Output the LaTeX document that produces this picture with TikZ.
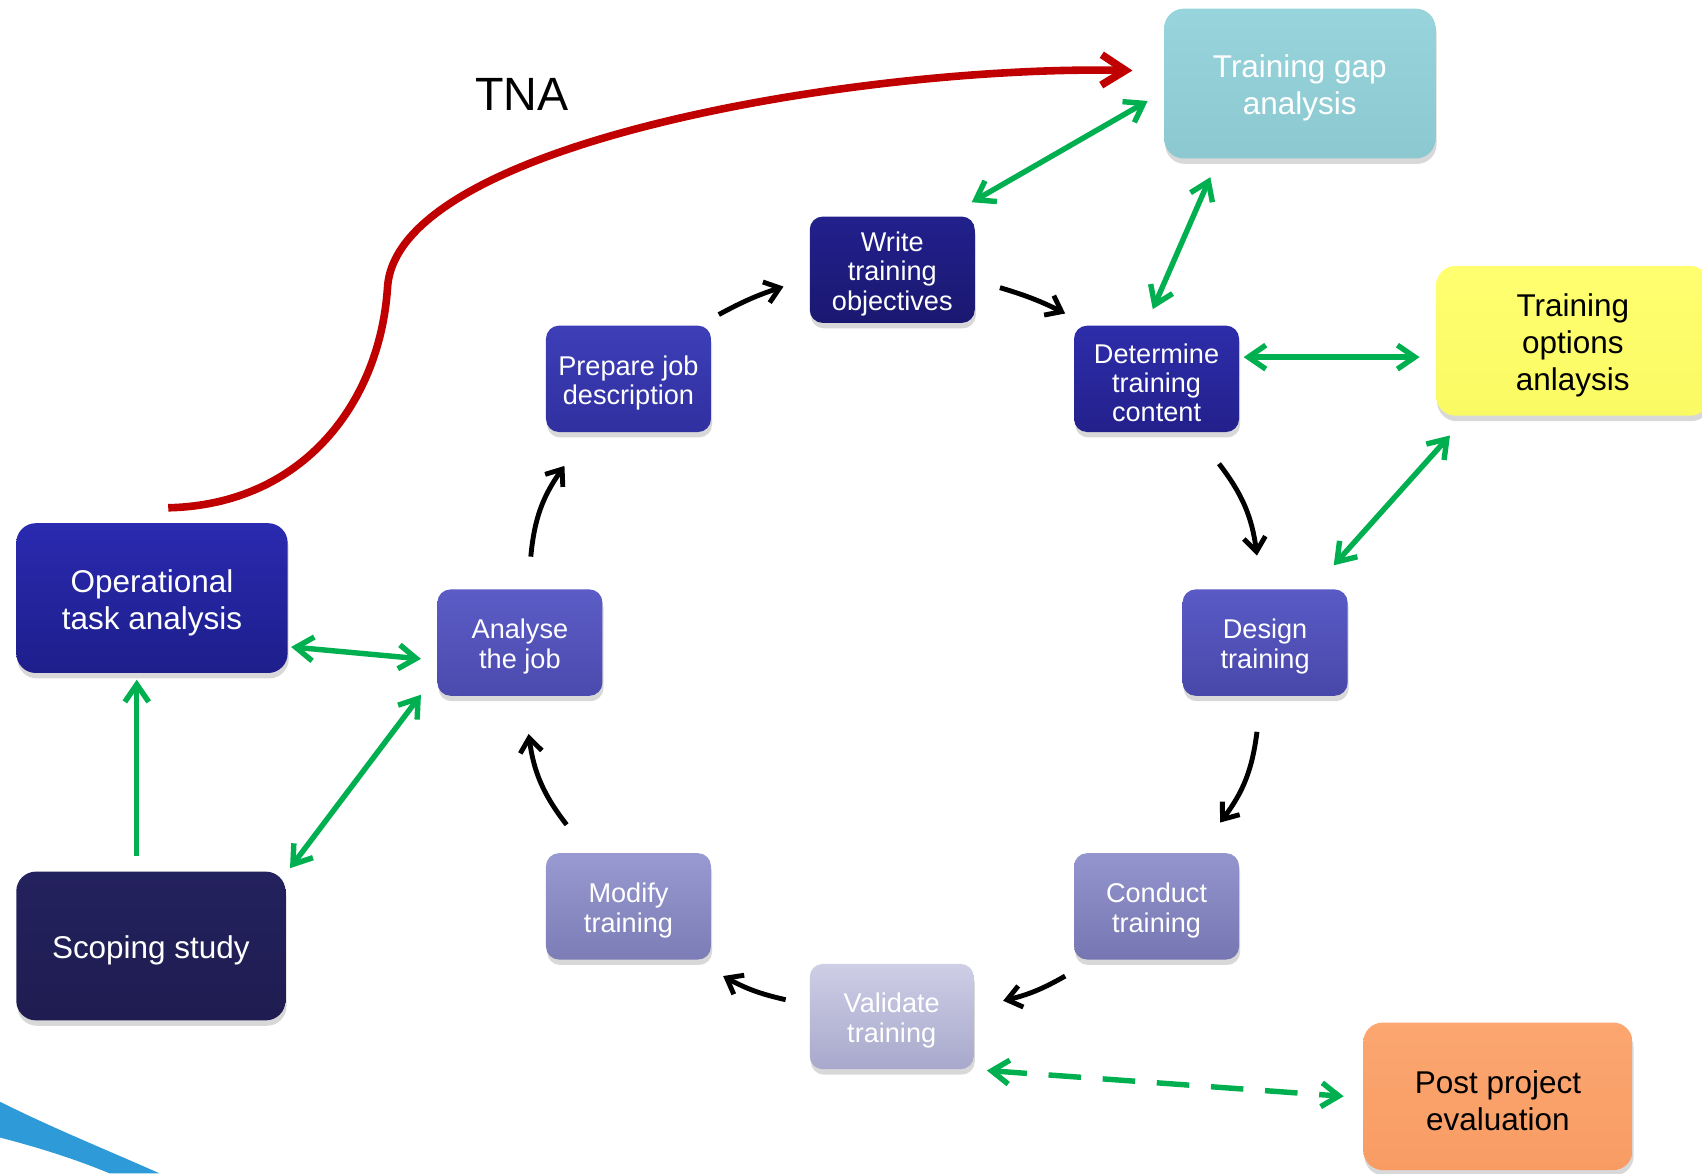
\documentclass[tikz,border=0pt]{standalone}
\usepackage{fontspec}
\setmainfont{Liberation Sans}
\usetikzlibrary{arrows.meta,shadows}
\definecolor{grn}{RGB}{0,176,80}
\definecolor{tnared}{RGB}{192,0,0}
\definecolor{swoosh}{RGB}{46,154,216}
\newcommand{\topstrutB}{\rule{0pt}{29.5pt}}
\newcommand{\topstrutS}{\rule{0pt}{25.5pt}}
\begin{document}
\begin{tikzpicture}[x=1pt,y=1pt,
  box/.style={rounded corners=12pt, draw=none, align=center, text=white, inner sep=0pt,
    drop shadow={shadow xshift=1pt,shadow yshift=-5pt,opacity=0.3}},
  small/.style={box, minimum width=152pt, minimum height=98pt, font=\fontsize{25}{27}\selectfont},
  big/.style={box, minimum width=250pt, minimum height=138pt, rounded corners=18pt, font=\fontsize{29}{34}\selectfont},
  garrow/.style={grn, line width=5pt, {Straight Barb[length=16pt,width=22pt]}-{Straight Barb[length=16pt,width=22pt]}},
  gone/.style={grn, line width=5pt, -{Straight Barb[length=16pt,width=22pt]}},
  karrow/.style={black, line width=4.5pt, -{Straight Barb[length=13pt,width=20pt]}, bend left=15},
]
\useasboundingbox (0,0) rectangle (1568,-1081);
\clip (0,0) rectangle (1568,-1081);
\fill[white] (0,0) rectangle (1568,-1081);

% bottom-left swoosh
\fill[swoosh] (0,-1015) .. controls (50,-1040) and (100,-1060) .. (147,-1081) -- (101,-1081) .. controls (70,-1068) and (35,-1057) .. (0,-1048) -- cycle;

% nodes
\node[big, top color={rgb,255:red,152;green,212;blue,219}, bottom color={rgb,255:red,140;green,200;blue,208}] (tga) at (1197.5,-77) {\topstrutB Training gap\\analysis};
\node[big, text=black, minimum width=252pt, top color={rgb,255:red,255;green,255;blue,112}, bottom color={rgb,255:red,250;green,250;blue,100}] (toa) at (1449,-314) {\topstrutB Training\\options\\anlaysis};
\node[small, top color={rgb,255:red,34;green,32;blue,140}, bottom color={rgb,255:red,26;green,24;blue,112}] (wto) at (822,-248.5) {\topstrutS Write\\training\\objectives};
\node[small, top color={rgb,255:red,46;green,45;blue,170}, bottom color={rgb,255:red,35;green,32;blue,140}] (dtc) at (1065.5,-349) {\topstrutS Determine\\training\\content};
\node[small, top color={rgb,255:red,62;green,62;blue,184}, bottom color={rgb,255:red,48;green,48;blue,160}] (pjd) at (579,-349) {\topstrutS Prepare job\\description};
\node[big, top color={rgb,255:red,42;green,42;blue,176}, bottom color={rgb,255:red,30;green,30;blue,140}] (ota) at (140,-551) {\topstrutB Operational\\task analysis};
\node[small, top color={rgb,255:red,92;green,92;blue,198}, bottom color={rgb,255:red,74;green,74;blue,174}] (aj) at (479,-592) {\topstrutS Analyse\\the job};
\node[small, top color={rgb,255:red,90;green,90;blue,198}, bottom color={rgb,255:red,72;green,72;blue,170}] (dt) at (1165.5,-592) {\topstrutS Design\\training};
\node[big, minimum width=248pt, minimum height=137pt, top color={rgb,255:red,36;green,34;blue,94}, bottom color={rgb,255:red,30;green,28;blue,80}] (ss) at (139,-871.5) {\topstrutB Scoping study};
\node[small, top color={rgb,255:red,154;green,154;blue,210}, bottom color={rgb,255:red,124;green,124;blue,182}] (mt) at (579,-835) {\topstrutS Modify\\training};
\node[small, top color={rgb,255:red,148;green,148;blue,206}, bottom color={rgb,255:red,118;green,118;blue,178}] (ct) at (1065.5,-835) {\topstrutS Conduct\\training};
\node[small, minimum width=151pt, minimum height=97pt, top color={rgb,255:red,206;green,206;blue,230}, bottom color={rgb,255:red,168;green,168;blue,204}] (vt) at (821.5,-936.5) {\topstrutS Validate\\training};
\node[big, text=black, minimum width=248pt, minimum height=136pt, top color={rgb,255:red,252;green,166;blue,112}, bottom color={rgb,255:red,248;green,156;blue,100}] (ppe) at (1380,-1010) {\topstrutB Post project\\evaluation};
\node[font=\fontsize{43}{46}\selectfont, inner sep=0pt] (tna) at (481,-87) {TNA};

% red TNA curve
\draw[tnared, line width=7pt, -{Straight Barb[length=22pt,width=28pt]}]
  ([shift={(15,14)}]ota.north) .. controls (280,-465) and (350,-370) .. (357,-265)
  .. controls (365,-130) and (800,-60) .. ([shift={(-29,12)}]tga.west);

% black cycle arrows
\draw[karrow, bend left=5] ([shift={(7,10)}]pjd.north east) to ([shift={(-24,-15.5)}]wto.west);
\draw[karrow, bend left=5] ([shift={(23,-16.5)}]wto.east) to ([shift={(-8,11)}]dtc.north west);
\draw[karrow] ([shift={(57.5,-29)}]dtc.south) to ([shift={(-7.5,31)}]dt.north);
\draw[karrow] ([shift={(-7.5,-33)}]dt.south) to ([shift={(58.5,28)}]ct.north);
\draw[karrow, bend left=8] ([shift={(-8,-15)}]ct.south west) to ([shift={(27,14.5)}]vt.east);
\draw[karrow, bend left=8] ([shift={(-22,15.5)}]vt.west) to ([shift={(11,-15)}]mt.south east);
\draw[karrow] ([shift={(-57,26)}]mt.north) to ([shift={(8,-35)}]aj.south);
\draw[karrow] ([shift={(10,30)}]aj.north) to ([shift={(-59,-31)}]pjd.south);

% green arrows
\draw[garrow] ([shift={(-3,13)}]wto.north east) -- ([shift={(-15,-16)}]tga.west);
\draw[garrow] ([shift={(-3.5,15)}]dtc.north) -- ([shift={(-82.5,-17)}]tga.south);
\draw[garrow] ([shift={(4,20)}]dtc.east) -- ([shift={(-15,-15)}]toa.west);
\draw[garrow] ([shift={(-13,22)}]dt.north east) -- ([shift={(13,-18)}]toa.south west);
\draw[garrow] ([shift={(3,-45)}]ota.east) -- ([shift={(-15,-15)}]aj.west);
\draw[garrow] ([shift={(4,3)}]ss.north east) -- ([shift={(-15,-48)}]aj.west);
\draw[gone] ([shift={(-13,14)}]ss.north) -- ([shift={(-14,-6)}]ota.south);
\draw[garrow, dash pattern=on 30pt off 20pt] ([shift={(12,-1)}]vt.south east) -- ([shift={(-18,0)}]ppe.west);
\end{tikzpicture}
\end{document}
